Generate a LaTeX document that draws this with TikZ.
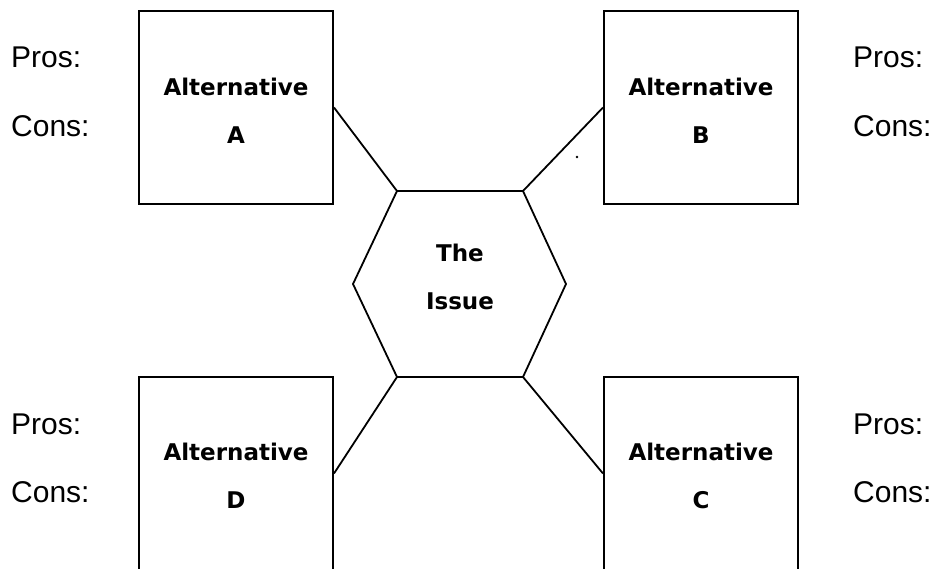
\documentclass[tikz,border=0pt]{standalone}
\usepackage{fontspec}
\setmainfont{Liberation Sans}
\newfontfamily\boxfont{DejaVu Sans}
\newlength{\du}
\setlength{\du}{1pt}
\definecolor{dialinecolor}{rgb}{0.000000, 0.000000, 0.000000}
\tikzset{
  altbox/.style={draw=dialinecolor, line width=2\du, minimum width=194\du, minimum height=193\du, inner sep=0pt},
  boxtext/.style={align=center, inner sep=0pt, font=\boxfont\bfseries\fontsize{23}{48}\selectfont},
  proscons/.style={anchor=base west, inner sep=0pt, font=\fontsize{30}{32}\selectfont},
  link/.style={draw=dialinecolor, line width=1.8\du}
}

\begin{document}
\begin{tikzpicture}
\pgftransformxscale{1.000000}
\pgftransformyscale{-1.000000}
\useasboundingbox (0\du,0\du) rectangle (938\du,569\du);
\clip (0\du,0\du) rectangle (938\du,569\du);
% the four alternatives
\node[altbox] (boxA) at (236.000000\du,107.500000\du){};
\node[altbox] (boxB) at (701.000000\du,107.500000\du){};
\node[altbox] (boxC) at (701.000000\du,473.500000\du){};
\node[altbox] (boxD) at (236.000000\du,473.500000\du){};
\node[boxtext] (txtA) at (236.000000\du,110.500000\du){Alternative\\A};
\node[boxtext] (txtB) at (701.000000\du,110.500000\du){Alternative\\B};
\node[boxtext] (txtC) at (701.000000\du,475.500000\du){Alternative\\C};
\node[boxtext] (txtD) at (236.000000\du,475.500000\du){Alternative\\D};
% the issue
\coordinate (hexW) at (353.000000\du,284.000000\du);
\coordinate (hexNW) at (397.000000\du,191.000000\du);
\coordinate (hexNE) at (523.000000\du,191.000000\du);
\coordinate (hexE) at (566.000000\du,284.000000\du);
\coordinate (hexSE) at (523.000000\du,377.000000\du);
\coordinate (hexSW) at (397.000000\du,377.000000\du);
\draw[link] (hexW)--(hexNW)--(hexNE)--(hexE)--(hexSE)--(hexSW)--cycle;
\node[boxtext] (issue) at (460.000000\du,276.500000\du){The\\Issue};
% links
\draw[link] (boxA.east)--(hexNW);
\draw[link] (boxB.west)--(hexNE);
\draw[link] (boxC.west)--(hexSE);
\draw[link] (boxD.east)--(hexSW);
% pros and cons
\node[proscons] (prosA) at (11.000000\du,68.000000\du){Pros:};
\node[proscons] (consA) at (11.000000\du,137.000000\du){Cons:};
\node[proscons] (prosB) at (853.000000\du,68.000000\du){Pros:};
\node[proscons] (consB) at (853.000000\du,137.000000\du){Cons:};
\node[proscons] (prosD) at (11.000000\du,435.000000\du){Pros:};
\node[proscons] (consD) at (11.000000\du,503.000000\du){Cons:};
\node[proscons] (prosC) at (853.000000\du,435.000000\du){Pros:};
\node[proscons] (consC) at (853.000000\du,503.000000\du){Cons:};
\coordinate (speck) at (577.000000\du,157.000000\du);
\fill[dialinecolor] (speck) circle (1.3\du);
\end{tikzpicture}
\end{document}
